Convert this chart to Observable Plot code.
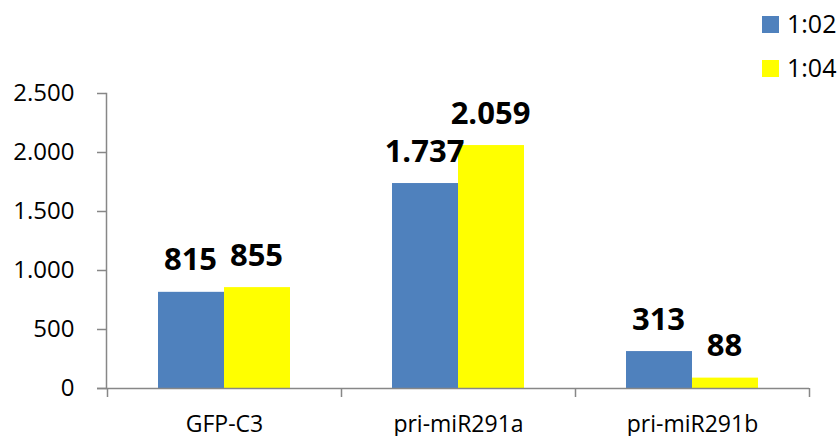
<!DOCTYPE html>
<html><head><meta charset="utf-8">
<script src="https://cdn.jsdelivr.net/npm/d3@7"></script>
<script src="https://cdn.jsdelivr.net/npm/@observablehq/plot@0.6"></script>
<style>
body{margin:0;background:#fff;}
#wrap{position:relative;width:839px;height:436px;font-family:"Open Sans",sans-serif;background:#fff;}
.sw{position:absolute;width:17px;height:17px;}
.lt{position:absolute;font-size:25px;line-height:25px;color:#000;white-space:nowrap;}
</style></head><body><div id="wrap"></div>
<script>
const categories = ["GFP-C3", "pri-miR291a", "pri-miR291b"];
const series = ["1:02", "1:04"];
const values102 = [815, 1737, 313];
const values104 = [855, 2059, 88];
const yTicks = [0, 500, 1000, 1500, 2000, 2500];
const colors = ["#4F81BD", "#FFFF00"];
const gray = "#878787";

const data = [];
categories.forEach((c, i) => {
  data.push({category: c, series: series[0], value: values102[i]});
  data.push({category: c, series: series[1], value: values104[i]});
});
const s0 = data.filter(d => d.series === series[0]);
const s1 = data.filter(d => d.series === series[1]);

const de = d3.formatLocale({decimal: ",", thousands: ".", grouping: [3], currency: ["", " €"]});
const fmt = de.format(",d");

const plot = Plot.plot({
  width: 839, height: 436,
  marginLeft: 106, marginRight: 30, marginTop: 93, marginBottom: 48,
  style: {fontFamily: '"Open Sans", sans-serif', background: "white", color: "#000"},
  x: {domain: categories, padding: 0, axis: null, label: null},
  y: {domain: [0, 2500], axis: null, label: null},
  marks: [
    Plot.barY(s0, {x: "category", y: "value", fill: colors[0], insetLeft: 51, insetRight: 117}),
    Plot.barY(s1, {x: "category", y: "value", fill: colors[1], insetLeft: 117, insetRight: 51}),
    Plot.frame({anchor: "left", stroke: gray, strokeWidth: 1.5}),
    Plot.ruleY([0], {stroke: gray, strokeWidth: 1.5, insetLeft: -9}),
    Plot.axisY({ticks: yTicks, tickSize: 9, tickPadding: 23, tickFormat: fmt, stroke: gray, fill: "#000", fontSize: 24, strokeWidth: 1.5, label: null}),
    Plot.axisX({tickSize: 0, tickPadding: 27, fontSize: 23, fill: "#000", label: null}),
    Plot.axisX({ticks: categories, tickSize: 9, dx: -117, tickFormat: () => "", stroke: gray, strokeWidth: 1.5, label: null}),
    Plot.axisX({ticks: [categories[categories.length - 1]], tickSize: 9, dx: 117, tickFormat: () => "", stroke: gray, strokeWidth: 1.5, label: null}),
    Plot.text(s0, {x: "category", y: "value", text: d => fmt(d.value), dx: -34, dy: -22, lineAnchor: "bottom", fontWeight: "bold", fontSize: 31, fill: "#000"}),
    Plot.text(s1, {x: "category", y: "value", text: d => fmt(d.value), dx: 32, dy: -22, lineAnchor: "bottom", fontWeight: "bold", fontSize: 31, fill: "#000"})
  ]
});
const wrap = document.getElementById("wrap");
wrap.appendChild(plot);

const legendTops = [16, 60];
series.forEach((s, i) => {
  const sw = document.createElement("div");
  sw.className = "sw";
  sw.style.left = "762px";
  sw.style.top = legendTops[i] + "px";
  sw.style.background = colors[i];
  wrap.appendChild(sw);
  const t = document.createElement("div");
  t.className = "lt";
  t.style.left = "787px";
  t.style.top = (legendTops[i] - 5) + "px";
  t.textContent = s;
  wrap.appendChild(t);
});
</script>
</body></html>
